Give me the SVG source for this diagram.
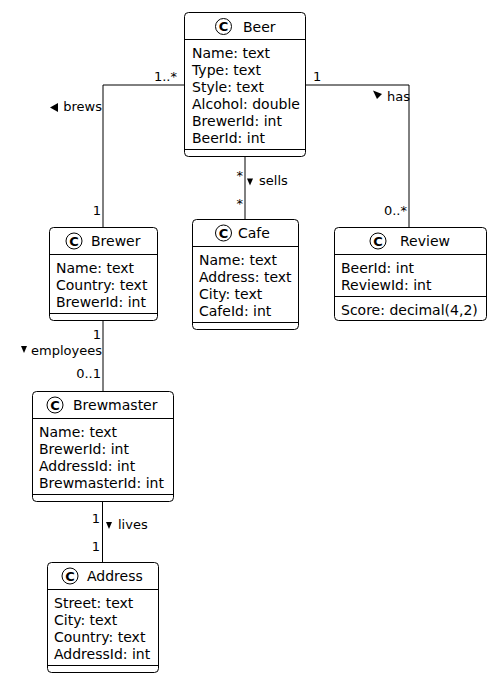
<svg xmlns="http://www.w3.org/2000/svg" width="492" height="680" viewBox="0 0 492 680">
<style>
.box{fill:#fff;stroke:#000;stroke-width:1}
.sep{stroke:#000;stroke-width:1}
.t{font-family:"DejaVu Sans",Verdana,sans-serif;font-size:14px;fill:#000}
.l{font-family:"DejaVu Sans",Verdana,sans-serif;font-size:13px;fill:#000}
.ic{fill:#fff;stroke:#000;stroke-width:1}
.ct{font-family:"DejaVu Sans",Verdana,sans-serif;font-size:13px;font-weight:bold;fill:#000;text-anchor:middle}
.ln{fill:none;stroke:#000;stroke-width:1}
.tri{fill:#000}
</style>
<rect width="492" height="680" fill="#fff"/>
<g id="connectors">
<path class="ln" d="M184,85 H103 V227"/>
<path class="ln" d="M305,85 H409 V227"/>
<path class="ln" d="M245,156 V219"/>
<path class="ln" d="M103,320 V391"/>
<path class="ln" d="M102.5,501 V562"/>
<text class="l" x="177" y="81" text-anchor="end">1..*</text>
<polygon class="tri" points="50,107.5 58,103 58,112"/>
<text class="l" x="102" y="111" text-anchor="end">brews</text>
<text class="l" x="101" y="215" text-anchor="end">1</text>
<text class="l" x="313" y="81">1</text>
<polygon class="tri" points="373,90.5 382,94 377,99"/>
<text class="l" x="387" y="101">has</text>
<text class="l" x="407" y="215" text-anchor="end">0..*</text>
<text class="l" x="243" y="180" text-anchor="end">*</text>
<text class="l" x="243" y="208" text-anchor="end">*</text>
<polygon class="tri" points="247,178.5 253,178.5 250,185.5"/>
<text class="l" x="259" y="185">sells</text>
<text class="l" x="101" y="339" text-anchor="end">1</text>
<polygon class="tri" points="21,346 27,346 24,353"/>
<text class="l" x="102" y="355" text-anchor="end">employees</text>
<text class="l" x="101" y="378" text-anchor="end">0..1</text>
<text class="l" x="100" y="523" text-anchor="end">1</text>
<polygon class="tri" points="106,522 112,522 109,529"/>
<text class="l" x="118" y="529">lives</text>
<text class="l" x="100" y="551" text-anchor="end">1</text>
</g>
<g id="Beer">
<rect class="box" x="184.5" y="12.5" width="121" height="144" rx="4"/>
<line class="sep" x1="184.5" y1="39.5" x2="305.5" y2="39.5"/>
<line class="sep" x1="184.5" y1="149.5" x2="305.5" y2="149.5"/>
<circle class="ic" cx="223.5" cy="26.5" r="8"/>
<text class="ct" x="223.5" y="31.2">C</text>
<text class="t" x="243" y="32">Beer</text>
<text class="t" x="192" y="58">Name: text</text>
<text class="t" x="192" y="75">Type: text</text>
<text class="t" x="192" y="92">Style: text</text>
<text class="t" x="192" y="109">Alcohol: double</text>
<text class="t" x="192" y="126">BrewerId: int</text>
<text class="t" x="192" y="143">BeerId: int</text>
</g>
<g id="Brewer">
<rect class="box" x="49.5" y="227.5" width="108" height="93" rx="4"/>
<line class="sep" x1="49.5" y1="254.5" x2="157.5" y2="254.5"/>
<line class="sep" x1="49.5" y1="313.5" x2="157.5" y2="313.5"/>
<circle class="ic" cx="74" cy="241" r="8"/>
<text class="ct" x="74" y="245.7">C</text>
<text class="t" x="91" y="246">Brewer</text>
<text class="t" x="56" y="273">Name: text</text>
<text class="t" x="56" y="290">Country: text</text>
<text class="t" x="56" y="307">BrewerId: int</text>
</g>
<g id="Cafe">
<rect class="box" x="192.5" y="219.5" width="106" height="110" rx="4"/>
<line class="sep" x1="192.5" y1="246.5" x2="298.5" y2="246.5"/>
<line class="sep" x1="192.5" y1="322.5" x2="298.5" y2="322.5"/>
<circle class="ic" cx="223.5" cy="233" r="8"/>
<text class="ct" x="223.5" y="237.7">C</text>
<text class="t" x="238" y="238">Cafe</text>
<text class="t" x="199" y="265">Name: text</text>
<text class="t" x="199" y="282">Address: text</text>
<text class="t" x="199" y="299">City: text</text>
<text class="t" x="199" y="316">CafeId: int</text>
</g>
<g id="Review">
<rect class="box" x="334.5" y="227.5" width="152" height="93" rx="4"/>
<line class="sep" x1="334.5" y1="254.5" x2="486.5" y2="254.5"/>
<line class="sep" x1="334.5" y1="296.5" x2="486.5" y2="296.5"/>
<circle class="ic" cx="378" cy="241" r="8"/>
<text class="ct" x="378" y="245.7">C</text>
<text class="t" x="400" y="246">Review</text>
<text class="t" x="341" y="273">BeerId: int</text>
<text class="t" x="341" y="290">ReviewId: int</text>
<text class="t" x="341" y="315">Score: decimal(4,2)</text>
</g>
<g id="Brewmaster">
<rect class="box" x="32.5" y="391.5" width="141" height="110" rx="4"/>
<line class="sep" x1="32.5" y1="418.5" x2="173.5" y2="418.5"/>
<line class="sep" x1="32.5" y1="494.5" x2="173.5" y2="494.5"/>
<circle class="ic" cx="55" cy="405" r="8"/>
<text class="ct" x="55" y="409.7">C</text>
<text class="t" x="73" y="410">Brewmaster</text>
<text class="t" x="39" y="437">Name: text</text>
<text class="t" x="39" y="454">BrewerId: int</text>
<text class="t" x="39" y="471">AddressId: int</text>
<text class="t" x="39" y="488">BrewmasterId: int</text>
</g>
<g id="Address">
<rect class="box" x="47.5" y="562.5" width="111" height="110" rx="4"/>
<line class="sep" x1="47.5" y1="589.5" x2="158.5" y2="589.5"/>
<line class="sep" x1="47.5" y1="665.5" x2="158.5" y2="665.5"/>
<circle class="ic" cx="70" cy="576" r="8"/>
<text class="ct" x="70" y="580.7">C</text>
<text class="t" x="87" y="581">Address</text>
<text class="t" x="54" y="608">Street: text</text>
<text class="t" x="54" y="625">City: text</text>
<text class="t" x="54" y="642">Country: text</text>
<text class="t" x="54" y="659">AddressId: int</text>
</g>
</svg>
